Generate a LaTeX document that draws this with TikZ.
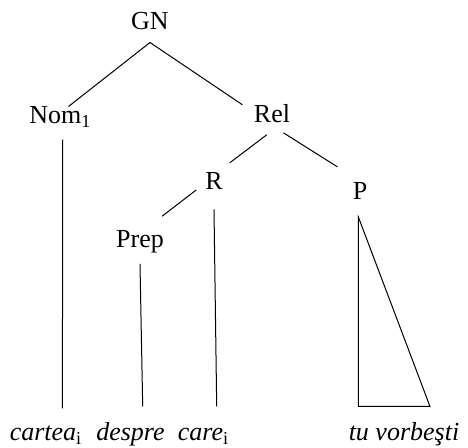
\documentclass[tikz,border=0pt]{standalone}
\usepackage{fontspec}
\setmainfont{Liberation Serif}

\begin{document}
\begin{tikzpicture}[x=0.5pt,y=-0.5pt,line width=0.5pt,
	font=\fontsize{13}{15}\selectfont,
	cat/.style={inner sep=0pt,text height=8.5pt,text depth=6pt,anchor=base},
	leaf/.style={inner sep=0pt,text height=17pt,text depth=3pt,anchor=base,font=\fontsize{13}{15}\selectfont\itshape}]
			\useasboundingbox (0,0) rectangle (468,448);

			% categories
			\node[cat] (gn) at (150,30) {GN};
			\node[cat] (nom) at (60.5,124) {Nom\textsubscript{1}};
			\node[cat] (rel) at (272,122.3) {Rel};
			\node[cat] (r) at (214,189.3) {R};
			\node[cat] (p) at (360,200) {P};
			\node[cat] (prep) at (140,247.3) {Prep};

			% words
			\node[leaf] (cartea) at (46,441) {cartea\textsubscript{\upshape i}};
			\node[leaf] (despre) at (130.5,441) {despre};
			\node[leaf] (care) at (203.5,441) {care\textsubscript{\upshape i}};
			\node[leaf] (vorbesti) at (404,441) {tu vorbeşti};

			% GN
			\draw (gn.south) -- ([xshift=4pt]nom.north);
			\draw (gn.south) -- ([xshift=-5.5pt]rel.north west);

			% Rel
			\draw ([xshift=-2.6pt]rel.south) -- ([xshift=3.3pt,yshift=4.5pt]r.north east);
			\draw ([xshift=5.7pt,yshift=1pt]rel.south) -- ([xshift=-7.4pt,yshift=7.8pt]p.north west);

			% R
			\draw ([xshift=-4.3pt,yshift=-1.6pt]r.west) -- ([xshift=-1.1pt,yshift=6.8pt]prep.north east);
			\draw ([yshift=-3.8pt]r.south) -- ([xshift=6.6pt]care.north);

			% down to the words
			\draw ([xshift=1.1pt,yshift=-1.6pt]nom.south) -- ([xshift=8.2pt,yshift=-1pt]cartea.north);
			\draw ([yshift=-2pt]prep.south) -- ([xshift=6.1pt]despre.north);

			% P
			\draw ([xshift=-0.8pt,yshift=-2.3pt]p.south) -- ([xshift=-22.8pt]vorbesti.north)
				-- ([xshift=13pt]vorbesti.north) -- cycle;
		\end{tikzpicture}
\end{document}
